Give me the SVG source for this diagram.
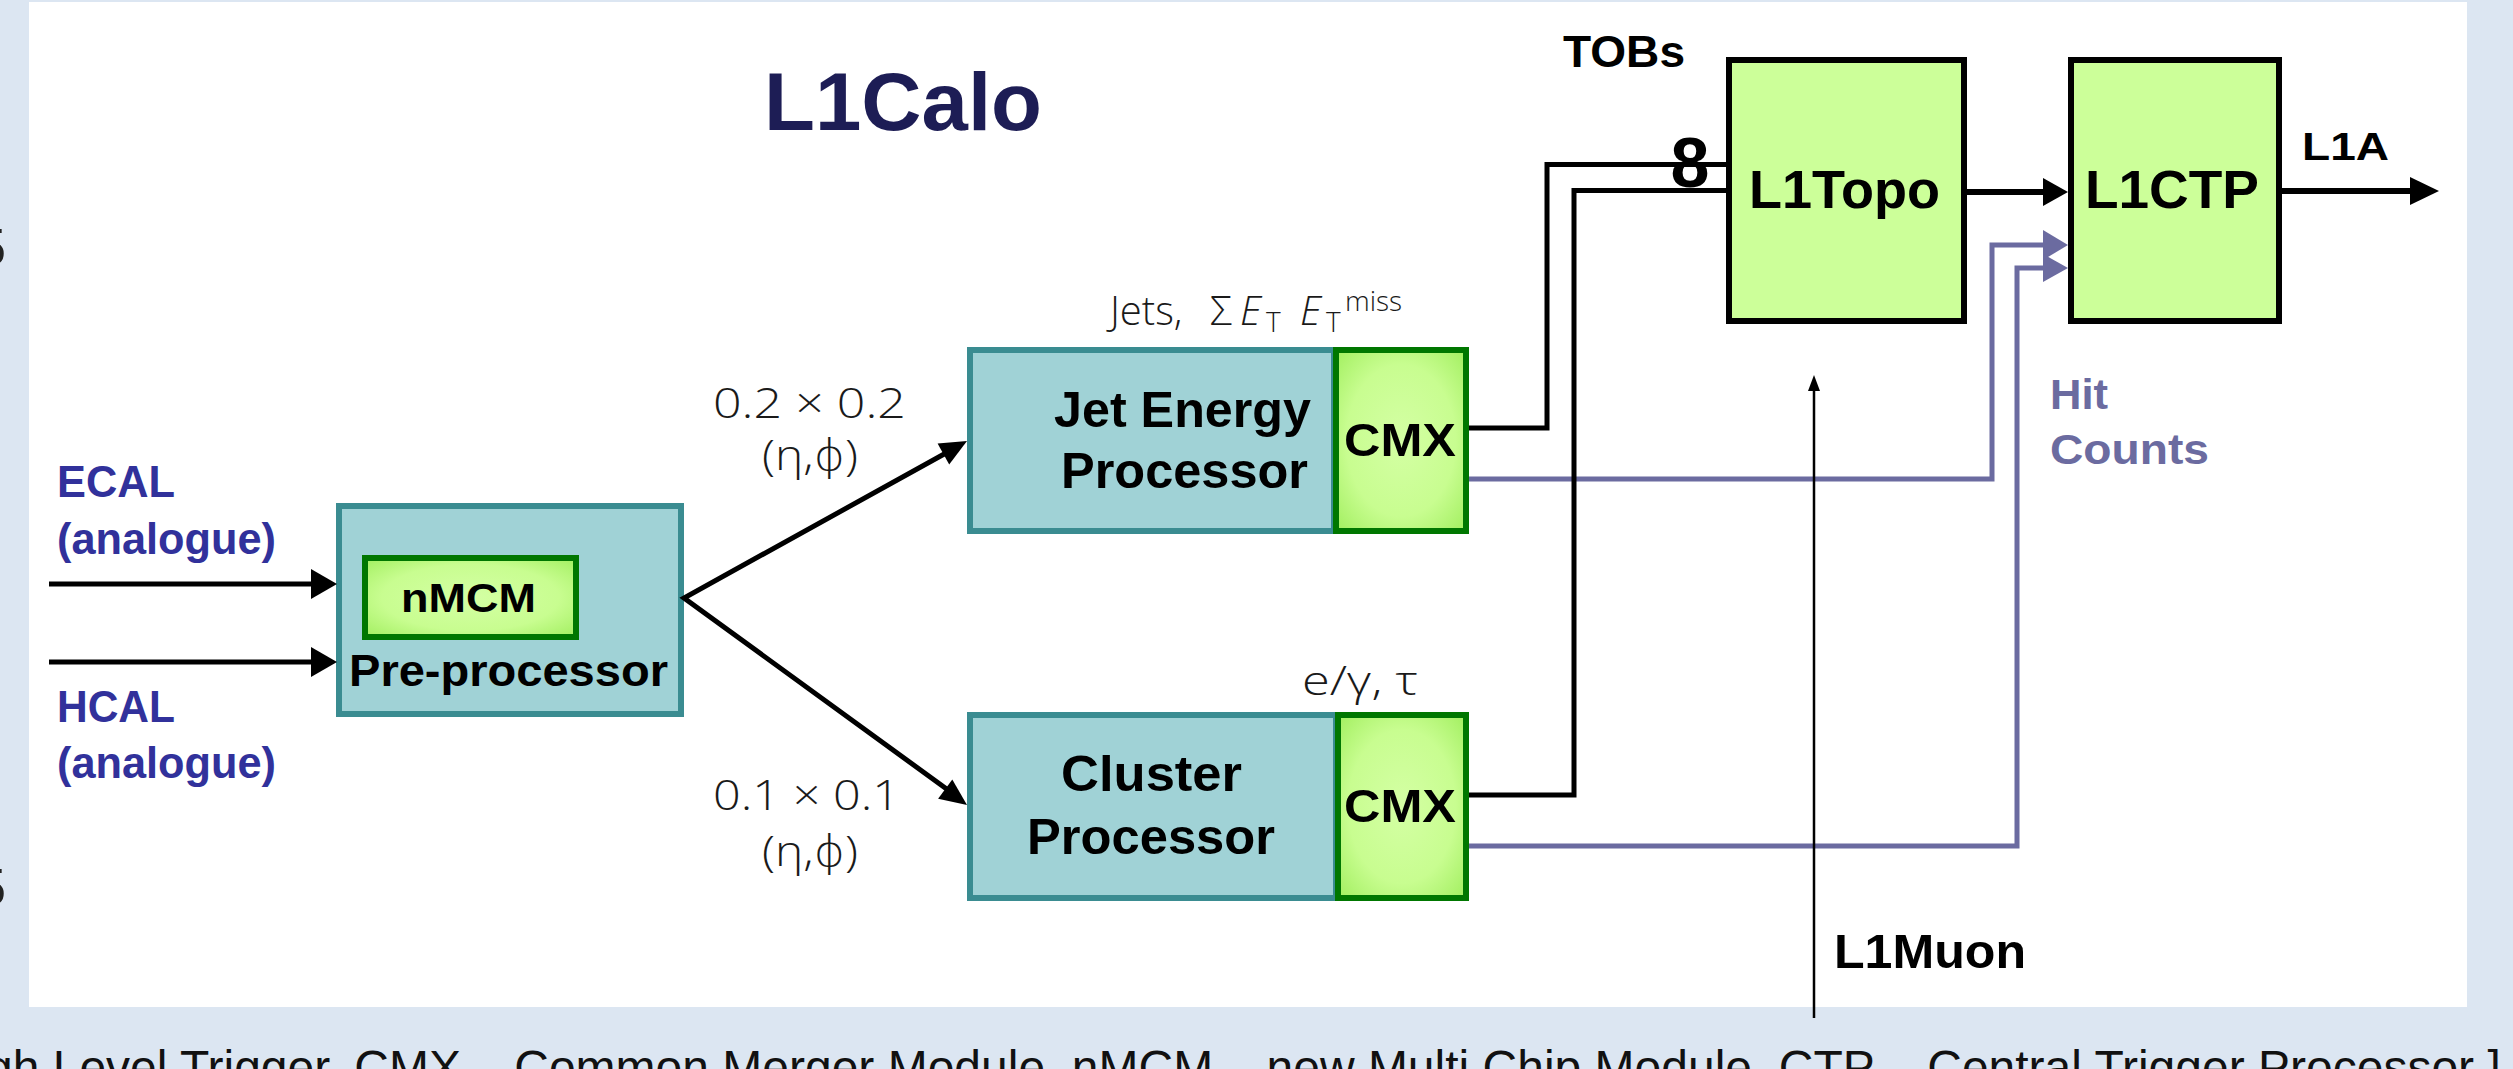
<svg xmlns="http://www.w3.org/2000/svg" width="2513" height="1069" viewBox="0 0 2513 1069">
<defs>
<style>
.bt{font-family:"Liberation Sans",Arial,sans-serif;font-weight:bold;fill:#000}
.blue{font-family:"Liberation Sans",Arial,sans-serif;font-weight:bold;fill:#31319b}
.hit{font-family:"Liberation Sans",Arial,sans-serif;font-weight:bold;fill:#6b6ba0}
.lbl{font-family:"Open Sans","DejaVu Sans",sans-serif;font-weight:300;fill:#1a1a1a}
.teal{fill:#a0d2d6;stroke:#3a8c91;stroke-width:6}
.cmx{fill:url(#gg);stroke:#007700;stroke-width:6}
.topo{fill:#ccff99;stroke:#000;stroke-width:6}
.blk{fill:none;stroke:#000;stroke-width:5;stroke-linejoin:miter}
.pur{fill:none;stroke:#6b6ba0;stroke-width:5;stroke-linejoin:miter}
.ah{fill:#000}
.ahp{fill:#6b6ba0}
</style>
<radialGradient id="gg" cx="50%" cy="50%" r="70%">
<stop offset="0" stop-color="#d4ffa4"/>
<stop offset="0.6" stop-color="#c8fd90"/>
<stop offset="1" stop-color="#a2ef60"/>
</radialGradient>
</defs>
<rect x="0" y="0" width="2513" height="1069" fill="#dce6f2"/>
<rect x="29" y="2" width="2438" height="1005" fill="#ffffff"/>
<text x="6" y="265" text-anchor="end" font-family="Liberation Sans,Arial,sans-serif" font-size="52" fill="#222">5</text>
<text x="6" y="905" text-anchor="end" font-family="Liberation Sans,Arial,sans-serif" font-size="52" fill="#222">5</text>
<text x="764" y="130" class="bt" font-size="82" style="fill:#1d1d55" textLength="278" lengthAdjust="spacingAndGlyphs">L1Calo</text>

<g id="ecal">
<text x="57" y="497" class="blue" font-size="44" textLength="118" lengthAdjust="spacingAndGlyphs">ECAL</text>
<text x="57" y="554" class="blue" font-size="44" textLength="219" lengthAdjust="spacingAndGlyphs">(analogue)</text>
</g>
<g id="hcal">
<text x="57" y="722" class="blue" font-size="44" textLength="118" lengthAdjust="spacingAndGlyphs">HCAL</text>
<text x="57" y="778" class="blue" font-size="44" textLength="219" lengthAdjust="spacingAndGlyphs">(analogue)</text>
</g>

<g id="preprocessor">
<rect class="teal" x="339" y="506" width="342" height="208"/>
<g id="nmcm">
<rect class="cmx" x="365" y="558" width="211" height="79"/>
<text x="401" y="612" class="bt" font-size="41" textLength="135" lengthAdjust="spacingAndGlyphs">nMCM</text>
</g>
<text x="349" y="686" class="bt" font-size="45" textLength="319" lengthAdjust="spacingAndGlyphs">Pre-processor</text>
</g>

<g id="jep">
<rect class="teal" x="970" y="350" width="364" height="181"/>
<rect class="cmx" x="1336" y="350" width="130" height="181"/>
<text x="1054" y="427" class="bt" font-size="50" textLength="257" lengthAdjust="spacingAndGlyphs">Jet Energy</text>
<text x="1061" y="488" class="bt" font-size="50" textLength="247" lengthAdjust="spacingAndGlyphs">Processor</text>
<text x="1344" y="456" class="bt" font-size="47" textLength="112" lengthAdjust="spacingAndGlyphs">CMX</text>
</g>

<g id="cp">
<rect class="teal" x="970" y="715" width="366" height="183"/>
<rect class="cmx" x="1338" y="715" width="128" height="183"/>
<text x="1061" y="791" class="bt" font-size="50" textLength="181" lengthAdjust="spacingAndGlyphs">Cluster</text>
<text x="1027" y="854" class="bt" font-size="50" textLength="248" lengthAdjust="spacingAndGlyphs">Processor</text>
<text x="1344" y="822" class="bt" font-size="47" textLength="112" lengthAdjust="spacingAndGlyphs">CMX</text>
</g>

<g id="l1topo">
<rect class="topo" x="1729" y="60" width="235" height="261"/>
<text x="1749" y="208" class="bt" font-size="53" textLength="191" lengthAdjust="spacingAndGlyphs">L1Topo</text>
</g>
<g id="l1ctp">
<rect class="topo" x="2071" y="60" width="208" height="261"/>
<text x="2085" y="208" class="bt" font-size="53" textLength="174" lengthAdjust="spacingAndGlyphs">L1CTP</text>
</g>

<g id="labels">
<text x="713" y="418" class="lbl" font-size="42" textLength="193" lengthAdjust="spacingAndGlyphs">0.2 × 0.2</text>
<text x="762" y="470" class="lbl" font-size="42" textLength="96" lengthAdjust="spacingAndGlyphs">(η,ϕ)</text>
<text x="713" y="810" class="lbl" font-size="42" textLength="187" lengthAdjust="spacingAndGlyphs">0.1 × 0.1</text>
<text x="762" y="866" class="lbl" font-size="42" textLength="96" lengthAdjust="spacingAndGlyphs">(η,ϕ)</text>
<text class="lbl" font-size="40" y="325"><tspan x="1110">Jets,</tspan><tspan x="1210">Σ</tspan><tspan x="1240" font-style="italic">E</tspan><tspan x="1266" dy="7" font-size="28">T</tspan><tspan x="1300" dy="-7" font-style="italic">E</tspan><tspan x="1326" dy="7" font-size="28">T</tspan><tspan x="1345" dy="-21" font-size="28">miss</tspan></text>
<text x="1302" y="695" class="lbl" font-size="40" textLength="116" lengthAdjust="spacingAndGlyphs">e/γ, τ</text>
<text x="1563" y="67" class="bt" font-size="44" textLength="122" lengthAdjust="spacingAndGlyphs">TOBs</text>
<text x="2302" y="160" class="bt" font-size="38" textLength="87" lengthAdjust="spacingAndGlyphs">L1A</text>
<text x="2050" y="409" class="hit" font-size="42" textLength="58" lengthAdjust="spacingAndGlyphs">Hit</text>
<text x="2050" y="464" class="hit" font-size="42" textLength="159" lengthAdjust="spacingAndGlyphs">Counts</text>
<text x="1834" y="968" class="bt" font-size="48" textLength="192" lengthAdjust="spacingAndGlyphs">L1Muon</text>
</g>

<g id="connectors">
<path class="blk" d="M49,584 H314"/>
<polygon class="ah" points="311,569 337,584 311,599"/>
<path class="blk" d="M49,662 H314"/>
<polygon class="ah" points="311,647 337,662 311,677"/>
<path class="blk" d="M946,453 L684,598 L948,790"/>
<polygon class="ah" points="967,441 949.2,464.6 937.6,443.6"/>
<polygon class="ah" points="967,805 938.1,798.8 952.3,779.4"/>
<path class="pur" d="M1469,479 H1992 V245 H2046"/>
<polygon class="ahp" points="2043,230 2068,245 2043,260"/>
<path class="pur" d="M1469,846 H2017 V268 H2046"/>
<polygon class="ahp" points="2043,254 2068,268 2043,282"/>
<path class="blk" d="M1469,428 H1547 V164.5 H1726"/>
<path class="blk" d="M1469,795 H1574 V190.5 H1726"/>
<path class="blk" style="stroke-width:6" d="M1967,192 H2046"/>
<polygon class="ah" points="2043,178 2068,192 2043,206"/>
<path class="blk" style="stroke-width:6" d="M2282,191 H2413"/>
<polygon class="ah" points="2410,177 2439,191 2410,205"/>
<path fill="none" stroke="#000" stroke-width="2.5" d="M1814,1018 V388"/>
<polygon class="ah" points="1814,375 1820,391 1808,391"/>
<text x="1690" y="187" text-anchor="middle" class="bt" font-size="70">8</text>
</g>

<text x="-14" y="1084" font-family="Liberation Sans,Arial,sans-serif" font-size="48" fill="#111">gh Level Trigger, CMX – Common Merger Module, nMCM – new Multi Chip Module, CTP – Central Trigger Processor ]</text>
</svg>
